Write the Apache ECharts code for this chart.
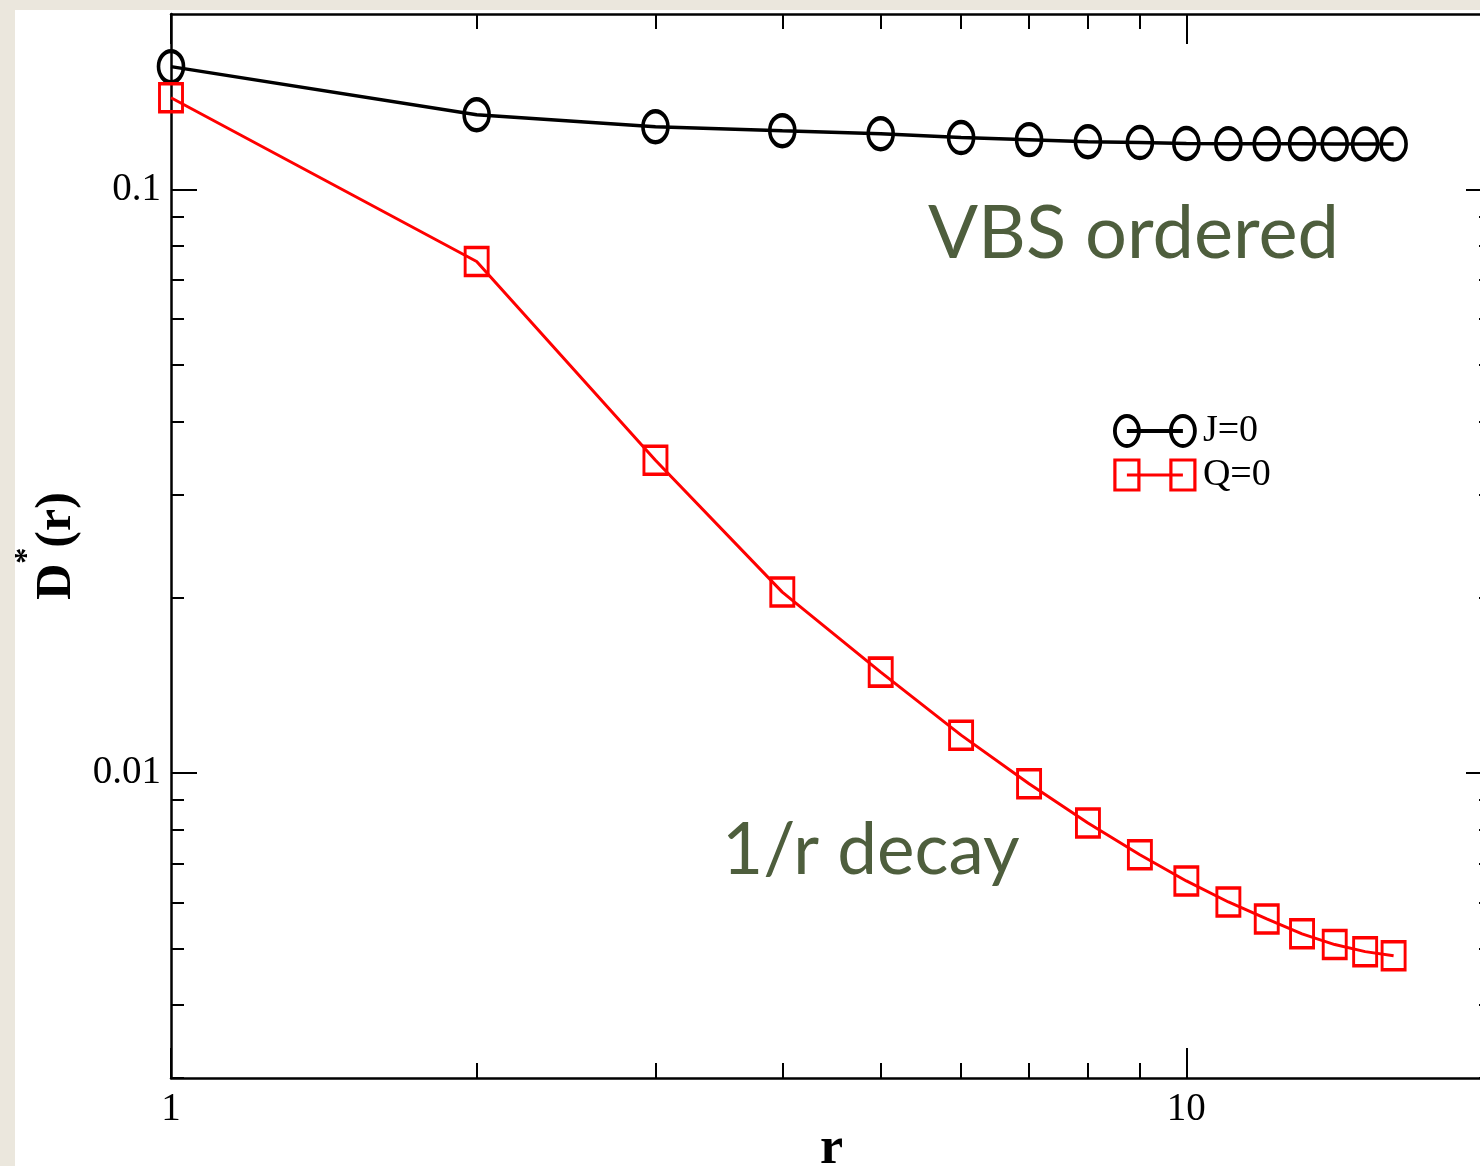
<!DOCTYPE html>
<html>
<head>
<meta charset="utf-8">
<script src="https://cdn.jsdelivr.net/npm/echarts@6.0.0/dist/echarts.min.js"></script>
<style>
  html, body { margin: 0; padding: 0; background: #ebe7dd; }
  #panel { position: absolute; left: 15px; top: 10px; width: 1465px; height: 1156px; background: #fff; }
  #main { position: absolute; left: 0; top: 0; width: 1480px; height: 1166px; }
</style>
</head>
<body>
<div id="panel"></div>
<div id="main"></div>
<script>
// r values and the two curves
const rVals = [1, 2, 3, 4, 5, 6, 7, 8, 9, 10, 11, 12, 13, 14, 15, 16];
const jZero = [0.1625, 0.1344, 0.1282, 0.1262, 0.1247, 0.1228, 0.1218, 0.1208,
               0.1204, 0.1200, 0.1199, 0.1198, 0.1198, 0.1197, 0.1197, 0.1197];
const qZero = [0.1437, 0.0753, 0.03436, 0.02042, 0.01489, 0.01161, 0.00958, 0.00821,
               0.00724, 0.00653, 0.00601, 0.00562, 0.0053, 0.00508, 0.00494, 0.00486];

// tick positions
const xMajor = [1, 10];
const xMinor = [2, 3, 4, 5, 6, 7, 8, 9, 20];
const yMajor = [0.01, 0.1];
const yMinor = [0.003, 0.004, 0.005, 0.006, 0.007, 0.008, 0.009,
                0.02, 0.03, 0.04, 0.05, 0.06, 0.07, 0.08, 0.09];

const xRange = [1, 20];
const yRange = [0.003, 0.2];

const serif = '"Liberation Serif", "DejaVu Serif", serif';
const ink = '#000';
const noteColor = '#4e5e3d';

const ellipse = 'path://M0,14 A11,14 0 1,1 22,14 A11,14 0 1,1 0,14 Z';
const circlePair = 'path://M0,15 A12,15 0 1,1 24,15 A12,15 0 1,1 0,15 Z M12,15 L68,15 M56,15 A12,15 0 1,1 80,15 A12,15 0 1,1 56,15 Z';
const squarePair = 'path://M0,0 L24,0 L24,30 L0,30 Z M12,15 L68,15 M56,0 L80,0 L80,30 L56,30 Z';

function makeAxis(position, range, ticks, tickLen, showLine, labels) {
    return {
        type: 'log',
        logBase: 10,
        position: position,
        min: range[0],
        max: range[1],
        offset: 0,
        axisLine: { show: showLine, onZero: false, lineStyle: { color: ink, width: 2.5 } },
        axisTick: { show: true, inside: true, length: tickLen, customValues: ticks,
                    lineStyle: { color: ink, width: 2 } },
        axisLabel: { show: !!labels, customValues: labels || [], color: ink,
                     fontFamily: serif, fontSize: 39, margin: 12,
                     showMinLabel: true, showMaxLabel: true },
        splitLine: { show: false },
        minorTick: { show: false },
        minorSplitLine: { show: false }
    };
}

const xAxes = [
    makeAxis('bottom', xRange, xMajor, 30, true, xMajor),
    makeAxis('bottom', xRange, xMinor, 15, false, null),
    makeAxis('top', xRange, xMajor, 30, true, null),
    makeAxis('top', xRange, xMinor, 15, false, null)
];
xAxes[0].name = 'r';
xAxes[0].nameLocation = 'middle';
xAxes[0].nameGap = 46;
xAxes[0].nameMoveOverlap = false;
xAxes[0].nameTextStyle = { fontFamily: serif, fontSize: 52, fontWeight: 'bold', color: ink };

const yAxes = [
    makeAxis('left', yRange, yMajor, 26, true, yMajor),
    makeAxis('left', yRange, yMinor, 13, false, null),
    makeAxis('right', yRange, yMajor, 26, true, null),
    makeAxis('right', yRange, yMinor, 13, false, null)
];
yAxes[0].axisLabel.margin = 10;
yAxes[0].name = '{d|D}{s|*}{d|(r)}';
yAxes[0].nameLocation = 'middle';
yAxes[0].nameGap = 70;
yAxes[0].nameTextStyle = {
    color: ink,
    rich: {
        d: { fontFamily: serif, fontSize: 50, fontWeight: 'bold', lineHeight: 70,
             verticalAlign: 'bottom', color: ink },
        s: { fontFamily: serif, fontSize: 32, fontWeight: 'bold', lineHeight: 30,
             verticalAlign: 'top', color: ink }
    }
};

const chart = echarts.init(document.getElementById('main'), null, { renderer: 'canvas' });

chart.setOption({
    backgroundColor: 'transparent',
    animation: false,
    grid: { left: 171, top: 14, right: -12, bottom: 88, containLabel: false, outerBoundsMode: 'none' },
    xAxis: xAxes,
    yAxis: yAxes,
    legend: {
        orient: 'vertical',
        left: 1108,
        top: 407,
        itemWidth: 80,
        itemHeight: 30,
        itemGap: 6,
        textStyle: { fontFamily: serif, fontSize: 38, color: ink, padding: [0, 0, 0, 3] },
        data: [
            { name: 'J=0', icon: circlePair,
              itemStyle: { color: 'rgba(0,0,0,0)', borderColor: '#000', borderWidth: 3.8 } },
            { name: 'Q=0', icon: squarePair,
              itemStyle: { color: 'rgba(0,0,0,0)', borderColor: '#ff0000', borderWidth: 3.2 } }
        ]
    },
    series: [
        {
            name: 'J=0',
            type: 'line',
            xAxisIndex: 0,
            yAxisIndex: 0,
            data: rVals.map((r, i) => [r, jZero[i]]),
            symbol: ellipse,
            symbolSize: [25, 31],
            lineStyle: { color: '#000', width: 3.5 },
            itemStyle: { color: 'rgba(0,0,0,0)', borderColor: '#000', borderWidth: 4 },
            emphasis: { disabled: true }
        },
        {
            name: 'Q=0',
            type: 'line',
            xAxisIndex: 0,
            yAxisIndex: 0,
            data: rVals.map((r, i) => [r, qZero[i]]),
            symbol: 'rect',
            symbolSize: [23, 28],
            lineStyle: { color: '#ff0000', width: 3 },
            itemStyle: { color: 'rgba(0,0,0,0)', borderColor: '#ff0000', borderWidth: 3.2 },
            emphasis: { disabled: true }
        }
    ],
    graphic: [
        {
            type: 'text', x: 928, y: 234,
            style: { text: 'VBS ordered', font: '74px Lato, "Open Sans", sans-serif',
                     fill: noteColor, verticalAlign: 'middle' }
        },
        {
            type: 'text', x: 722, y: 851,
            style: { text: '1/r decay', font: '71px Lato, "Open Sans", sans-serif',
                     fill: noteColor, verticalAlign: 'middle' }
        }
    ]
});
</script>
</body>
</html>
